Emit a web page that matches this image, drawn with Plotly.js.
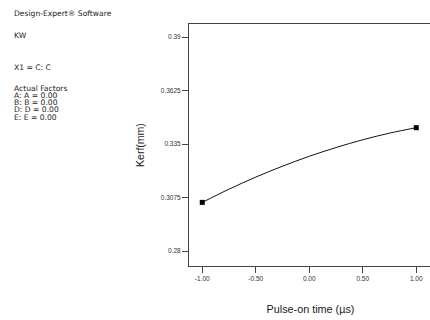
<!DOCTYPE html>
<html><head><meta charset="utf-8">
<script src="https://cdn.plot.ly/plotly-3.0.1.min.js"></script>
<style>html,body{margin:0;padding:0;overflow:hidden;background:#fff;width:430px;height:320px}</style>
</head><body><div id="chart"></div>
<script>
const curveX = [-1.0, -0.75, -0.5, -0.25, 0.0, 0.25, 0.5, 0.75, 1.0];
const curveY = [0.3050, 0.3118, 0.3180, 0.3236, 0.3287, 0.3332, 0.3372, 0.3406, 0.3434];
const pointX = [-1.0, 1.0];
const pointY = [0.3050, 0.3434];
const yTickVals = [0.28, 0.3075, 0.335, 0.3625, 0.39];
const yTickText = ["0.28", "0.3075", "0.335", "0.3625", "0.39"];
const xTickVals = [-1, -0.5, 0, 0.5, 1];
const xTickText = ["-1.00", "-0.50", "0.00", "0.50", "1.00"];
const infoLines = [
  ["Design-Expert® Software", 14],
  ["KW", 36],
  ["X1 = C: C", 68],
  ["Actual Factors", 88],
  ["A: A = 0.00", 95.5],
  ["B: B = 0.00", 102.5],
  ["D: D = 0.00", 109.5],
  ["E: E = 0.00", 117]
];

const W = 432, H = 320, L = 189, R = 0, T = 24, B = 54;
const pw = W - L - R, ph = H - T - B;
const font = "Liberation Sans, Arial, sans-serif";

const annotations = infoLines.map(([t, py]) => ({
  text: t, xref: 'paper', yref: 'paper',
  x: (12.5 - L) / pw, y: (H - B - py) / ph,
  xanchor: 'left', yanchor: 'middle', showarrow: false, borderpad: 0,
  font: {family: 'DejaVu Sans, sans-serif', size: 7.6, color: '#222'}
}));

Plotly.newPlot('chart', [
  {x: curveX, y: curveY, mode: 'lines', line: {color: '#111', width: 1, shape: 'spline'}, hoverinfo: 'none'},
  {x: pointX, y: pointY, mode: 'markers', marker: {symbol: 'square', size: 5, color: '#000'}, hoverinfo: 'none'}
], {
  width: W, height: H,
  margin: {l: L, r: R, t: T, b: B, pad: 0},
  showlegend: false,
  paper_bgcolor: '#fff', plot_bgcolor: '#fff',
  font: {family: font, color: '#333'},
  xaxis: {
    range: [-1.124, 1.147], tickvals: xTickVals, ticktext: xTickText,
    showgrid: false, zeroline: false, showline: true, mirror: true,
    linecolor: '#444', linewidth: 1, ticks: 'outside', ticklen: 6, tickcolor: '#444',
    tickfont: {size: 6.5, color: '#333'},
    title: {text: 'Pulse-on time (µs)', font: {size: 10.8, color: '#1a1a1a'}, standoff: 24}
  },
  yaxis: {
    range: [0.2723, 0.3967], tickvals: yTickVals, ticktext: yTickText,
    showgrid: false, zeroline: false, showline: true, mirror: true,
    linecolor: '#444', linewidth: 1, ticks: 'outside', ticklen: 6, tickcolor: '#444',
    tickfont: {size: 6.5, color: '#333'},
    title: {text: 'Kerf(mm)', font: {size: 10.5, color: '#1a1a1a'}, standoff: 14}
  },
  annotations: annotations
}, {displayModeBar: false, staticPlot: true});
</script></body></html>
